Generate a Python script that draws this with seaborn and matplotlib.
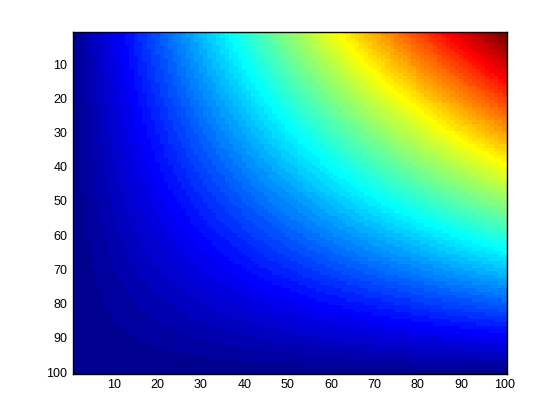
import numpy as np
import pandas as pd
import seaborn as sns
import matplotlib.pyplot as plt
from matplotlib.colors import ListedColormap

# grid: 100 columns x 100 rows, value grows to the right and upward
col_index = np.arange(1, 101)
row_index = np.arange(1, 101)
col_weight = col_index.astype(float)          # 1 .. 100 left to right
row_weight = (101 - row_index).astype(float)  # 100 .. 1 top to bottom

tick_values = [10, 20, 30, 40, 50, 60, 70, 80, 90, 100]

values = pd.DataFrame(np.outer(row_weight, col_weight), index=row_index, columns=col_index)


def matlab_jet(m=64):
    # same construction as MATLAB's jet(m)
    n = int(np.ceil(m / 4))
    u = np.concatenate([np.arange(1, n + 1) / n, np.ones(n - 1), np.arange(n, 0, -1) / n])
    g = int(np.ceil(n / 2)) - (1 if m % 4 == 1 else 0) + np.arange(1, len(u) + 1)
    r = g + n
    b = g - n
    cmap = np.zeros((m, 3))
    for ch, idx in ((0, r), (1, g), (2, b)):
        keep = (idx >= 1) & (idx <= m)
        cmap[idx[keep] - 1, ch] = u[keep]
    return ListedColormap(cmap)


sns.set_style("white")
plt.rcParams["font.family"] = ["Liberation Sans", "DejaVu Sans"]

fig = plt.figure(figsize=(5.6, 4.2), dpi=100)
ax = fig.add_axes([0.13, 0.11, 0.775, 0.815])
sns.heatmap(values, cmap=matlab_jet(64), cbar=False, ax=ax, xticklabels=False, yticklabels=False)

# heatmap cells sit on [i, i+1]; put ticks on cell centres
ax.set_xticks([t - 0.5 for t in tick_values])
ax.set_xticklabels([str(t) for t in tick_values])
ax.set_yticks([t - 0.5 for t in tick_values])
ax.set_yticklabels([str(t) for t in tick_values], rotation=0)
ax.set_xlabel("")
ax.set_ylabel("")

ax.tick_params(direction="in", length=4, width=1, colors="black", labelsize=9,
               top=True, right=True, bottom=True, left=True, pad=4)
for s in ax.spines.values():
    s.set_visible(True)
    s.set_color("black")
    s.set_linewidth(1)

fig.savefig("out.png", dpi=100, facecolor="white")
